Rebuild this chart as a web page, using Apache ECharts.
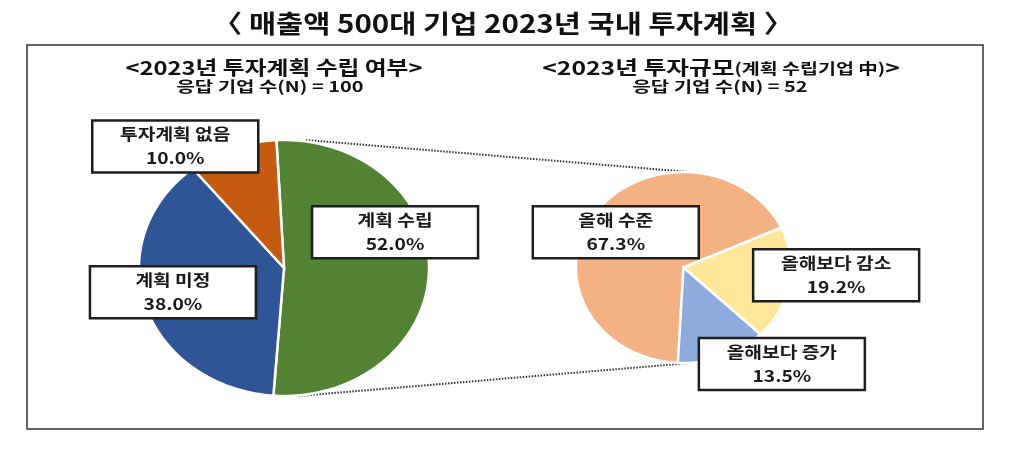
<!DOCTYPE html>
<html>
<head>
<meta charset="utf-8">
<script src="https://cdn.jsdelivr.net/npm/echarts@6/dist/echarts.min.js"></script>
<style>
  html, body { margin: 0; padding: 0; background: #fff; }
  #main { width: 1011px; height: 453px; }
</style>
</head>
<body>
<div id="main"></div>
<script>
// 2023년 투자계획 수립 여부 (N = 100)
const leftNames = ['계획 수립', '계획 미정', '투자계획 없음'];
const leftValues = [52.0, 38.0, 10.0];
// 2023년 투자규모 (계획 수립기업 中, N = 52)
const rightNames = ['올해 수준', '올해보다 감소', '올해보다 증가'];
const rightValues = [67.3, 19.2, 13.5];

const leftColors = ['#548235', '#2F5597', '#C55A11'];
const rightColors = ['#F4B183', '#FFE699', '#8FAADC'];
// label box centres in unit-pie coords
const leftLabelPos = [[0.766, 0.28], [-0.766, -0.19], [-0.75, 0.95]];
const rightLabelPos = [[-0.63, 0.37], [1.42, -0.08], [0.915, -1.01]];

const FONT = '"Noto Sans CJK KR", "Noto Sans", sans-serif';

function toSlices(values) {
    let acc = 0;
    return values.map(v => {
        const s = acc;
        acc += v;
        return [s, acc, v];
    });
}

// start angle: degrees clockwise from 12 o'clock
function pieRenderer(names, colors, labelPos, startDeg) {
    return function (params, api) {
        const i = params.dataIndex;
        const a0 = (startDeg + api.value(0) * 3.6) * Math.PI / 180;
        const a1 = (startDeg + api.value(1) * 3.6) * Math.PI / 180;
        const pts = [api.coord([0, 0])];
        const n = Math.max(2, Math.ceil((a1 - a0) / 0.02));
        for (let k = 0; k <= n; k++) {
            const a = a0 + (a1 - a0) * k / n;
            pts.push(api.coord([Math.sin(a), Math.cos(a)]));
        }
        const c = api.coord(labelPos[i]);
        return {
            type: 'group',
            children: [
                {
                    type: 'polygon',
                    shape: { points: pts },
                    style: { fill: colors[i], stroke: '#fff', lineWidth: 2.5 }
                },
                {
                    type: 'rect',
                    z2: 100,
                    shape: { x: c[0] - 83, y: c[1] - 26, width: 166, height: 52 },
                    style: { fill: '#fff', stroke: '#1e1e1e', lineWidth: 2.5 }
                },
                {
                    type: 'text',
                    z2: 101,
                    x: c[0],
                    y: c[1] + 0,
                    scaleX: 1.2,
                    style: {
                        text: names[i] + '\n' + api.value(2).toFixed(1) + '%',
                        font: 'bold 16px ' + FONT,
                        fill: '#1a1a1a',
                        align: 'center',
                        verticalAlign: 'middle',
                        lineHeight: 24
                    }
                }
            ]
        };
    };
}

const chart = echarts.init(document.getElementById('main'));

const axisBase = { type: 'value', min: -1, max: 1, show: false };

chart.setOption({
    animation: false,
    grid: [
        { left: 139, top: 140, width: 290, height: 256 },
        { left: 576, top: 172, width: 215, height: 191 }
    ],
    xAxis: [
        Object.assign({ gridIndex: 0 }, axisBase),
        Object.assign({ gridIndex: 1 }, axisBase)
    ],
    yAxis: [
        Object.assign({ gridIndex: 0 }, axisBase),
        Object.assign({ gridIndex: 1 }, axisBase)
    ],
    series: [
        {
            type: 'custom',
            xAxisIndex: 0,
            yAxisIndex: 0,
            data: toSlices(leftValues),
            renderItem: pieRenderer(leftNames, leftColors, leftLabelPos, -3)
        },
        {
            type: 'custom',
            xAxisIndex: 1,
            yAxisIndex: 1,
            data: toSlices(rightValues),
            renderItem: pieRenderer(rightNames, rightColors, rightLabelPos, 183)
        }
    ]
});

// dotted connectors between the two pies
const lt = chart.convertToPixel({ gridIndex: 0 }, [0.15, 1]);
const lb = chart.convertToPixel({ gridIndex: 0 }, [0.1, -1]);
const rt = chart.convertToPixel({ gridIndex: 1 }, [0.06, 1]);
const rb = chart.convertToPixel({ gridIndex: 1 }, [0.06, -1]);
const dotted = { stroke: '#333', lineWidth: 2, lineDash: [1.5, 1.5] };

chart.setOption({
    graphic: [
        {
            type: 'text', x: 503, y: 23, scaleX: 1.18,
            style: {
                text: '〈 매출액 500대 기업 2023년 국내 투자계획 〉',
                font: 'bold 25px ' + FONT, fill: '#111',
                align: 'center', verticalAlign: 'middle'
            }
        },
        {
            type: 'rect',
            shape: { x: 27, y: 45, width: 956, height: 384 },
            style: { fill: 'none', stroke: '#333', lineWidth: 1.5 }
        },
        {
            type: 'text', x: 274, y: 68, scaleX: 1.25,
            style: {
                text: '<2023년 투자계획 수립 여부>',
                font: 'bold 19px ' + FONT, fill: '#111',
                align: 'center', verticalAlign: 'middle'
            }
        },
        {
            type: 'text', x: 270, y: 86, scaleX: 1.33,
            style: {
                text: '응답 기업 수(N) = 100',
                font: 'bold 15px ' + FONT, fill: '#111',
                align: 'center', verticalAlign: 'middle'
            }
        },
        {
            type: 'text', x: 721, y: 68, scaleX: 1.3,
            style: {
                text: '{a|<2023년 투자규모}{b|(계획 수립기업 中)}{a|>}',
                align: 'center', verticalAlign: 'middle',
                rich: {
                    a: { font: 'bold 19px ' + FONT, fill: '#111' },
                    b: { font: 'bold 15px ' + FONT, fill: '#111' }
                }
            }
        },
        {
            type: 'text', x: 720, y: 86, scaleX: 1.33,
            style: {
                text: '응답 기업 수(N) = 52',
                font: 'bold 15px ' + FONT, fill: '#111',
                align: 'center', verticalAlign: 'middle'
            }
        },
        { type: 'line', z: -1, shape: { x1: lt[0], y1: lt[1], x2: rt[0], y2: rt[1] }, style: dotted },
        { type: 'line', z: -1, shape: { x1: lb[0], y1: lb[1], x2: rb[0], y2: rb[1] }, style: dotted }
    ]
});
</script>
</body>
</html>
